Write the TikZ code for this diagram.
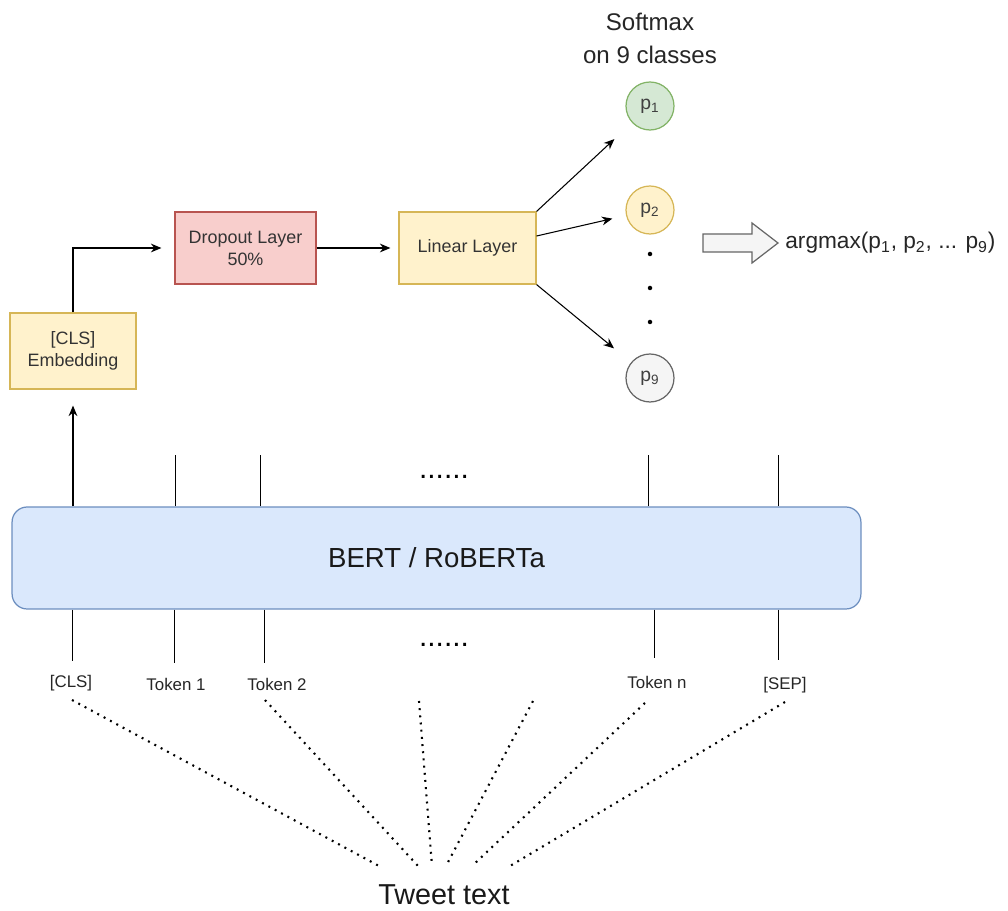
\documentclass[tikz,border=0pt]{standalone}
\usepackage{fontspec}
\setmainfont{Liberation Sans}
\usetikzlibrary{arrows.meta}
\definecolor{yfill}{HTML}{FFF2CC}
\definecolor{ydraw}{HTML}{D6B656}
\definecolor{rfill}{HTML}{F8CECC}
\definecolor{rdraw}{HTML}{B85450}
\definecolor{gfill}{HTML}{D5E8D4}
\definecolor{gdraw}{HTML}{82B366}
\definecolor{grfill}{HTML}{F5F5F5}
\definecolor{grdraw}{HTML}{666666}
\definecolor{bfill}{HTML}{DAE8FC}
\definecolor{bdraw}{HTML}{6C8EBF}
\begin{document}
\begin{tikzpicture}[x=0.02cm,y=-0.02cm,
  box/.style={draw, line width=0.7pt, inner sep=0pt, align=center, text=black!80,
    font=\fontsize{10.2}{12.5}\selectfont},
  prob/.style={circle, draw, line width=0.7pt, minimum size=0.96cm, inner sep=0pt,
    text=black!75, font=\fontsize{11}{12}\selectfont},
  arr/.style={-{Stealth[length=6pt,width=5pt]}, line width=0.6pt},
  tick/.style={line width=0.5pt},
  tok/.style={text=black!85, font=\fontsize{9.6}{11}\selectfont},
  dots/.style={dash pattern=on 1.1pt off 3pt, line width=1.2pt}]
\useasboundingbox (0,0) rectangle (1008,911);

% top part
\node[box, fill=yfill, draw=ydraw, minimum width=2.52cm, minimum height=1.52cm] (emb) at (73,351) {[CLS]\\Embedding};
\node[box, fill=rfill, draw=rdraw, minimum width=2.82cm, minimum height=1.44cm] (drop) at (245.5,248) {Dropout Layer\\50\%};
\node[box, fill=yfill, draw=ydraw, minimum width=2.74cm, minimum height=1.44cm] (lin) at (467.5,248) {Linear Layer};

\node[align=center, text=black!85, font=\fontsize{13.7}{18.8}\selectfont] (soft) at (650,38) {Softmax\\on 9 classes};
\node[prob, fill=gfill, draw=gdraw] (p1) at (650,106) {p\textsubscript{1}};
\node[prob, fill=yfill, draw=ydraw] (p2) at (650,210) {p\textsubscript{2}};
\node[prob, fill=grfill, draw=grdraw] (p9) at (650,378) {p\textsubscript{9}};
\foreach \y in {254,288,322}
  \fill (650,\y) circle (0.045cm);

\filldraw[fill=grfill, draw=grdraw, line width=0.7pt] (703,234) -- (752,234) -- (752,223) -- (778,243)
  -- (752,263) -- (752,252) -- (703,252) -- cycle;
\node[anchor=west, inner sep=0pt, text=black!85, font=\fontsize{12.9}{15}\selectfont] (amax) at (785,243)
  {argmax(p\textsubscript{1}, p\textsubscript{2}, ... p\textsubscript{9})};

\draw[arr, shorten >=0.26cm] (emb.north) |- (drop.west);
\draw[arr, shorten >=0.16cm] (drop.east) -- (lin.west);
\draw[arr, shorten >=0.48cm] (lin.north east) -- (p1);
\draw[arr, shorten >=0.28cm] (lin.east |- 0,236) -- (p2);
\draw[arr, shorten >=0.44cm] (lin.south east) -- (p9);

% encoder
\node[box, fill=bfill, draw=bdraw, rounded corners=0.3cm, minimum width=16.98cm, minimum height=2.04cm,
  text=black!90, font=\fontsize{15.7}{18}\selectfont] (bert) at (436.5,558) {BERT / RoBERTa};
\draw[arr, shorten >=0.32cm] (bert.north -| emb) -- (emb.south);

\foreach \n/\x in {o1/175, o2/260, on/648, osep/778} {
  \coordinate (\n) at (\x,455);
  \draw[tick] (bert.north -| \n) -- (\n);
}
\foreach \n/\x/\y in {ucls/72/661, u1/174/663, u2/264/663, un/654/658, usep/778/660} {
  \coordinate (\n) at (\x,\y);
  \draw[tick] (bert.south -| \n) -- (\n);
}
\node[font=\fontsize{17}{17}\selectfont] (eup) at (444,477) {......};
\node[font=\fontsize{17}{17}\selectfont] (edown) at (444,645) {......};

% tokens
\node[tok] (tcls) at (71,683) {[CLS]};
\node[tok] (t1) at (176,684) {Token 1};
\node[tok] (t2) at (277,684) {Token 2};
\node[tok] (tn) at (657,682) {Token n};
\node[tok] (tsep) at (785,685) {[SEP]};

\node[text=black!90, font=\fontsize{16.4}{19}\selectfont] (tweet) at (444,895) {Tweet text};
\foreach \i/\a/\ay/\b in {1/72/700/379, 2/265/700/418, 3/419/701/432, 4/533/701/446, 5/645/703/472, 6/785/702/510} {
  \coordinate (s\i) at (\a,\ay);
  \coordinate (e\i) at (\b,866);
  \draw[dots] (s\i) -- (e\i);
}
\end{tikzpicture}
\end{document}
